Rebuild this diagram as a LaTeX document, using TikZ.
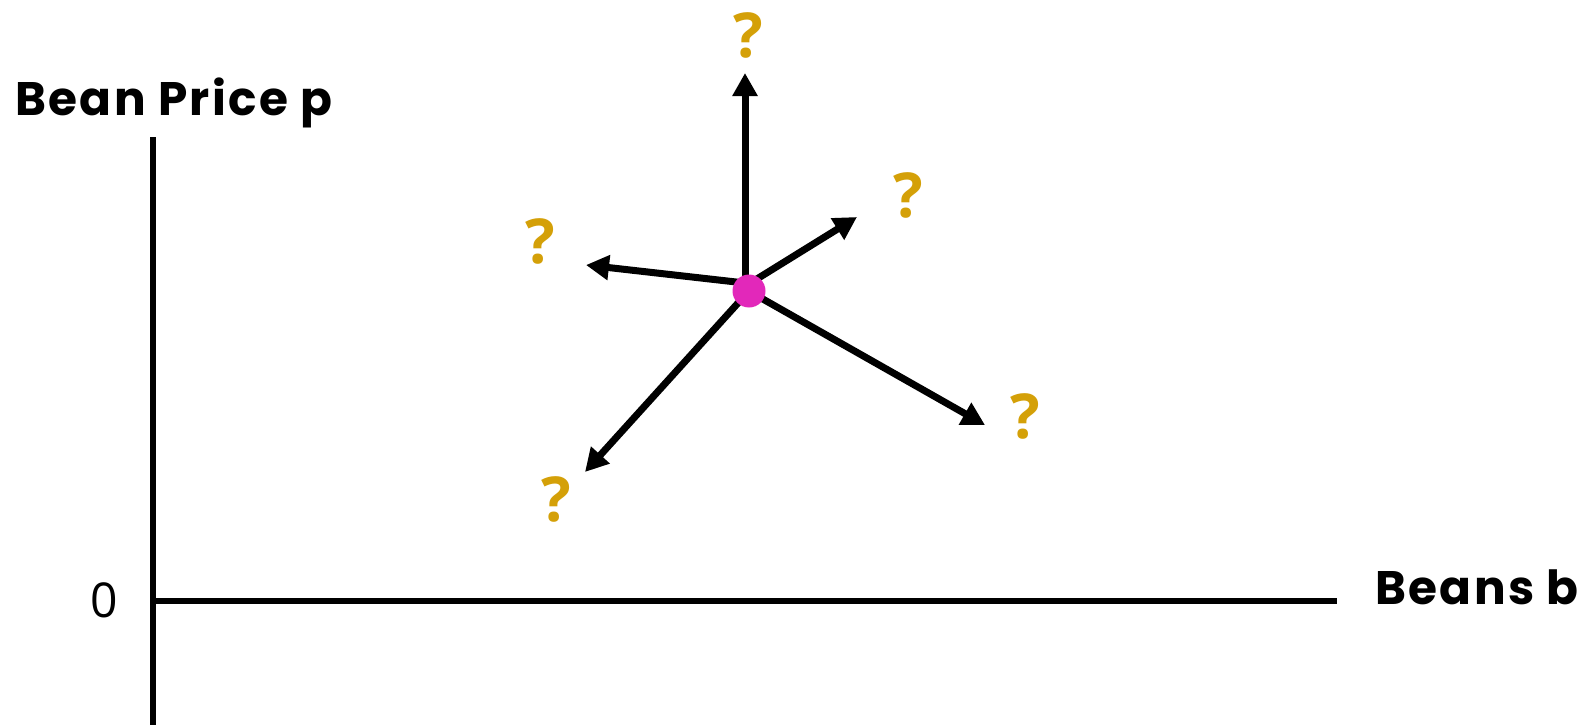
\documentclass[tikz,border=0pt]{standalone}
\usepackage{fontspec}
\setmainfont{Open Sans}
\newfontfamily\labfont[LetterSpace=5]{Poppins}
\usetikzlibrary{arrows.meta}
\definecolor{qcol}{RGB}{212,160,8}
\definecolor{dotcol}{RGB}{226,40,186}
\tikzset{
  axis/.style={line width=6pt},
  vec/.style={line width=7pt,-{Triangle[length=23pt,width=24pt]}},
  axlabel/.style={font=\labfont\bfseries\fontsize{47}{52}\selectfont,inner sep=0pt},
  qmark/.style={text=qcol,font=\bfseries\fontsize{62}{66}\selectfont,inner sep=0pt},
  zerolab/.style={font=\fontsize{48}{52}\selectfont,inner sep=0pt}
}
\begin{document}
\begin{tikzpicture}[x=1pt,y=-1pt]
\useasboundingbox (0,0) rectangle (1585,725);
% axes
\coordinate (ytop) at (153,137);
\coordinate (ybot) at (153,725);
\coordinate (xl) at (150,601);
\coordinate (xr) at (1337,601);
\draw[axis] (ytop) -- (ybot);
\draw[axis] (xl) -- (xr);
\node[axlabel,anchor=base west] (ylab) at (15,115) {Bean Price p};
\node[axlabel,anchor=base west] (xlab) at (1375,604) {Beans b};
\node[zerolab] (zero) at (104,600) {0};
% vectors
\coordinate (sup) at (745,286);
\coordinate (sur) at (752,282);
\coordinate (sl) at (745,283);
\coordinate (sll) at (748,292);
\coordinate (slr) at (754,294);
\coordinate (tup) at (745,73);
\coordinate (tur) at (857,217);
\coordinate (tl) at (586,265);
\coordinate (tll) at (585,472);
\coordinate (tlr) at (985,425);
\draw[vec] (sup) -- (tup);
\draw[vec] (sur) -- (tur);
\draw[vec] (sl) -- (tl);
\draw[vec] (sll) -- (tll);
\draw[vec] (slr) -- (tlr);
\node[circle,fill=dotcol,minimum size=33pt,inner sep=0pt] (dot) at (749,291) {};
% question marks
\node[qmark] (qup) at (748,35) {?};
\node[qmark] (qur) at (908,195) {?};
\node[qmark] (ql) at (540,241) {?};
\node[qmark] (qll) at (556,499) {?};
\node[qmark] (qlr) at (1025,416) {?};
\end{tikzpicture}
\end{document}
